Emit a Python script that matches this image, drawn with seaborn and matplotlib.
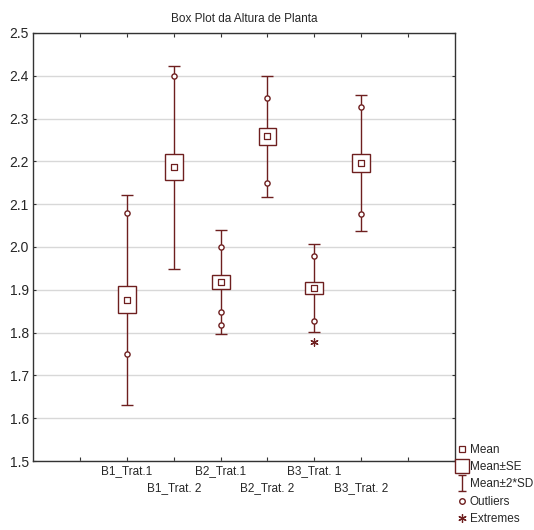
import numpy as np
import matplotlib
matplotlib.use("Agg")
import matplotlib.pyplot as plt
from matplotlib.lines import Line2D
from matplotlib.path import Path
import seaborn as sns

# group summary statistics
groups = ["B1_Trat.1", "B1_Trat. 2", "B2_Trat.1", "B2_Trat. 2", "B3_Trat. 1", "B3_Trat. 2"]
means = [1.877, 2.186, 1.918, 2.258, 1.904, 2.196]
se = [0.032, 0.030, 0.016, 0.019, 0.014, 0.022]
two_sd = [0.245, 0.237, 0.122, 0.142, 0.103, 0.158]

# outliers and extremes (long form: group index, value)
outlier_group = [0, 0, 1, 2, 2, 2, 3, 3, 4, 4, 5, 5]
outlier_value = [2.08, 1.75, 2.40, 2.00, 1.848, 1.818, 2.348, 2.15, 1.978, 1.828, 2.327, 2.077]
extreme_group = [4]
extreme_value = [1.778]

y_ticks = [1.5, 1.6, 1.7, 1.8, 1.9, 2.0, 2.1, 2.2, 2.3, 2.4, 2.5]

COLOR = "#6e1f1f"


def main():
    sns.set_style("white")
    plt.rcParams["font.family"] = ["Liberation Sans", "DejaVu Sans"]

    fig = plt.figure(figsize=(5.34, 5.30), dpi=100)
    ax = fig.add_axes([0.062, 0.130, 0.790, 0.808])

    pos = np.arange(len(groups)) + 2
    m = np.array(means)
    s = np.array(se)

    # Mean +/- 2*SD whiskers
    ax.errorbar(pos, m, yerr=two_sd, fmt="none", ecolor=COLOR, elinewidth=1,
                capsize=4.5, capthick=1, zorder=2)
    # Mean +/- SE boxes
    ax.bar(pos, 2 * s, bottom=m - s, width=0.38, facecolor="white",
           edgecolor=COLOR, linewidth=1, zorder=3)
    # Means
    sns.scatterplot(x=pos, y=m, marker="s", s=14, facecolor="white",
                    edgecolor=COLOR, linewidth=0.9, ax=ax, zorder=4)
    # Outliers
    sns.scatterplot(x=pos[outlier_group], y=outlier_value, marker="o", s=14,
                    facecolor="white", edgecolor=COLOR, linewidth=1, ax=ax, zorder=4)
    # Extremes
    sns.scatterplot(x=pos[extreme_group], y=extreme_value, marker=(6, 2, 0), s=28,
                    color=COLOR, linewidth=0.9, ax=ax, zorder=4)

    ax.set_xlim(0, 9)
    ax.set_ylim(1.5, 2.5)
    ax.set_yticks(y_ticks)
    ax.set_yticklabels([f"{v:.1f}" for v in y_ticks], fontsize=10)
    ax.grid(axis="y", color="#d8d8d8", linewidth=1)
    ax.set_axisbelow(True)

    # staggered category labels: first row on major ticks, second row on minor ticks
    row1 = [p for i, p in enumerate(pos) if i % 2 == 0]
    row2 = [p for i, p in enumerate(pos) if i % 2 == 1]
    ax.set_xticks([1] + row1 + [8])
    ax.set_xticklabels([""] + groups[0::2] + [""], fontsize=8.5)
    ax.set_xticks(row2, minor=True)
    ax.set_xticklabels(groups[1::2], minor=True, fontsize=8.5)
    ax.tick_params(axis="x", which="both", direction="in", length=3, width=0.8,
                   top=True, bottom=True, color="#333333")
    ax.tick_params(axis="x", which="major", pad=3)
    ax.tick_params(axis="x", which="minor", pad=15)
    ax.tick_params(axis="y", direction="in", length=2, left=True, right=True,
                   color="#333333", pad=3)
    for sp in ax.spines.values():
        sp.set_color("#333333")
        sp.set_linewidth(1)

    ax.set_title("Box Plot da Altura de Planta", fontsize=8.5, pad=8)

    # legend
    ibeam = Path([(-0.5, -1), (0.5, -1), (0, -1), (0, 1), (-0.5, 1), (0.5, 1)],
                 [Path.MOVETO, Path.LINETO, Path.MOVETO, Path.LINETO, Path.MOVETO, Path.LINETO])
    handles = [
        Line2D([], [], ls="none", marker="s", ms=4, mfc="white", mec=COLOR, mew=0.9),
        Line2D([], [], ls="none", marker="s", ms=10, mfc="white", mec=COLOR, mew=1),
        Line2D([], [], ls="none", marker=ibeam, ms=11, mec=COLOR, mew=1),
        Line2D([], [], ls="none", marker="o", ms=4, mfc="white", mec=COLOR, mew=1),
        Line2D([], [], ls="none", marker=(6, 2, 0), ms=6, mec=COLOR, mew=0.9),
    ]
    names = ["Mean", "Mean\u00b1SE", "Mean\u00b12*SD", "Outliers", "Extremes"]
    fig.legend(handles, names, loc="lower left", bbox_to_anchor=(0.852, 0.005),
               frameon=False, fontsize=8.5, handlelength=0.8, handletextpad=0.25,
               labelspacing=0.45, borderaxespad=0.0, borderpad=0.2)

    fig.savefig("out.png", dpi=100)


if __name__ == "__main__":
    main()
